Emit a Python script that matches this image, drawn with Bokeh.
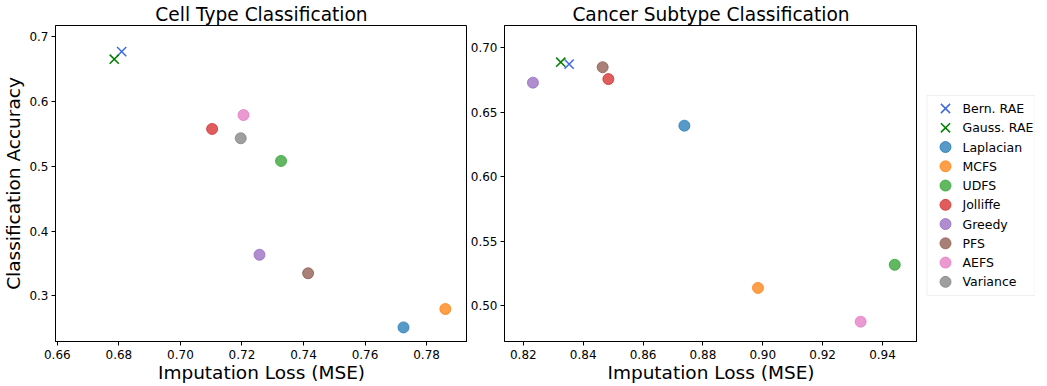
from bokeh.plotting import figure
from bokeh.layouts import row
from bokeh.models import FixedTicker, PrintfTickFormatter, Range1d, ColumnDataSource, BoxAnnotation
from bokeh.core.properties import value
from bokeh.embed import file_html
from bokeh.resources import INLINE

methods = ["Bern. RAE", "Gauss. RAE", "Laplacian", "MCFS", "UDFS",
           "Jolliffe", "Greedy", "PFS", "AEFS", "Variance"]
colors = ["#4169e1", "#008000", "#1f77b4", "#ff7f0e", "#2ca02c",
          "#d62728", "#9467bd", "#8c564b", "#e377c2", "#7f7f7f"]
markers = ["x", "x", "circle", "circle", "circle",
           "circle", "circle", "circle", "circle", "circle"]

cell_mse = [0.6809, 0.6785, 0.7725, 0.7861, 0.7327, 0.7103, 0.7257, 0.7415, 0.7205, 0.7196]
cell_acc = [0.6766, 0.6648, 0.2514, 0.2798, 0.5080, 0.5573, 0.3634, 0.3349, 0.5787, 0.5430]
cancer_mse = [0.8353, 0.8325, 0.8738, 0.8984, 0.9441, 0.8484, 0.8232, 0.8465, 0.9327, None]
cancer_acc = [0.6874, 0.6889, 0.6396, 0.5136, 0.5316, 0.6758, 0.6730, 0.6850, 0.4874, None]

cell_xticks = [0.66, 0.68, 0.70, 0.72, 0.74, 0.76, 0.78]
cell_yticks = [0.3, 0.4, 0.5, 0.6, 0.7]
cancer_xticks = [0.82, 0.84, 0.86, 0.88, 0.90, 0.92, 0.94]
cancer_yticks = [0.50, 0.55, 0.60, 0.65, 0.70]

FONT = "DejaVu Sans"
FRAME_H = 316


def make_fig(title, xr, yr, xt, yt, yfmt, fw, ylabel=None):
    p = figure(frame_width=fw, frame_height=FRAME_H, x_range=xr, y_range=yr,
               output_backend="svg", toolbar_location=None,
               min_border=0, title=title)
    p.title.text_font = FONT
    p.title.text_font_size = "18.6px"
    p.title.text_font_style = "normal"
    p.title.align = "center"
    p.title.standoff = 2
    p.title.text_color = "black"
    p.xgrid.visible = False
    p.ygrid.visible = False
    p.outline_line_color = "black"
    p.outline_line_alpha = 1.0
    p.xaxis.axis_label = "Imputation Loss (MSE)"
    if ylabel:
        p.yaxis.axis_label = ylabel
    p.xaxis.ticker = FixedTicker(ticks=xt)
    p.yaxis.ticker = FixedTicker(ticks=yt)
    p.xaxis.formatter = PrintfTickFormatter(format="%.2f")
    p.yaxis.formatter = PrintfTickFormatter(format=yfmt)
    for ax in (p.xaxis[0], p.yaxis[0]):
        ax.axis_label_text_font = FONT
        ax.axis_label_text_font_size = "18.5px"
        ax.axis_label_text_font_style = "normal"
        ax.axis_label_text_color = "black"
        ax.axis_label_standoff = 0
        ax.major_label_text_font = FONT
        ax.major_label_text_font_size = "12px"
        ax.major_label_text_color = "black"
        ax.major_label_standoff = 2
        ax.major_tick_out = 4
        ax.major_tick_in = 0
        ax.minor_tick_out = 0
        ax.minor_tick_in = 0
        ax.axis_line_color = "black"
        ax.major_tick_line_color = "black"
    p.xaxis[0].major_label_standoff = 4
    return p


def add_points(p, xs, ys):
    for i, m in enumerate(methods):
        if xs[i] is None:
            continue
        if markers[i] == "x":
            p.scatter([xs[i]], [ys[i]], marker="x", size=13, line_color=colors[i],
                      line_width=1.5, line_alpha=1.0)
        else:
            p.scatter([xs[i]], [ys[i]], marker="circle", size=11, fill_color=colors[i],
                      fill_alpha=0.75, line_color=colors[i], line_alpha=0.75)


p1 = make_fig("Cell Type Classification", (0.6594, 0.7933), (0.2297, 0.7168),
              cell_xticks, cell_yticks, "%.1f", 412, "Classification Accuracy")
p1.yaxis[0].major_label_standoff = 3
p1.yaxis[0].axis_label_standoff = 2
add_points(p1, cell_mse, cell_acc)

p2 = make_fig("Cancer Subtype Classification", (0.8137, 0.9517), (0.4720, 0.7174),
              cancer_xticks, cancer_yticks, "%.2f", 413)
p2.yaxis[0].major_label_standoff = 3
add_points(p2, cancer_mse, cancer_acc)

# ---- legend panel (a key figure: one row per method) ----
LEG_W = 118
ROW = 19.26       # px per legend row
TOP = 83.0        # px from frame top to first row centre
p3 = figure(frame_width=LEG_W, frame_height=FRAME_H,
            x_range=Range1d(0, LEG_W),
            y_range=Range1d((FRAME_H - TOP) / ROW, -TOP / ROW),
            x_axis_type=None, y_axis_type=None, output_backend="svg",
            toolbar_location=None, min_border=0, outline_line_color=None)
p3.xgrid.visible = False
p3.ygrid.visible = False

n = len(methods)
box = BoxAnnotation(left=9.5, right=LEG_W - 0.5,
                    top=-13.0 / ROW, bottom=-13.0 / ROW + 200.0 / ROW,
                    fill_alpha=0.0, line_color="#cccccc", line_width=1)
p3.add_layout(box)

rows = list(range(n))
is_x = [m == "x" for m in markers]
src = ColumnDataSource(dict(
    gx=[28] * n, tx=[45] * n, y=rows, label=methods, color=colors, marker=markers,
    falpha=[0.0 if f else 0.75 for f in is_x],
    lalpha=[1.0 if f else 0.75 for f in is_x],
    lwidth=[1.5 if f else 1.0 for f in is_x],
    size=[13 if f else 11 for f in is_x],
))
p3.scatter(x="gx", y="y", source=src, marker="marker", size="size",
           fill_color="color", fill_alpha="falpha",
           line_color="color", line_alpha="lalpha", line_width="lwidth")
p3.text(x="tx", y="y", text="label", source=src, text_baseline="middle",
        text_align="left", text_font=value(FONT), text_font_size="12.5px",
        text_color="black")

layout = row(p1, p2, p3, spacing=0)
open("out.html", "w").write(file_html(layout, INLINE))
